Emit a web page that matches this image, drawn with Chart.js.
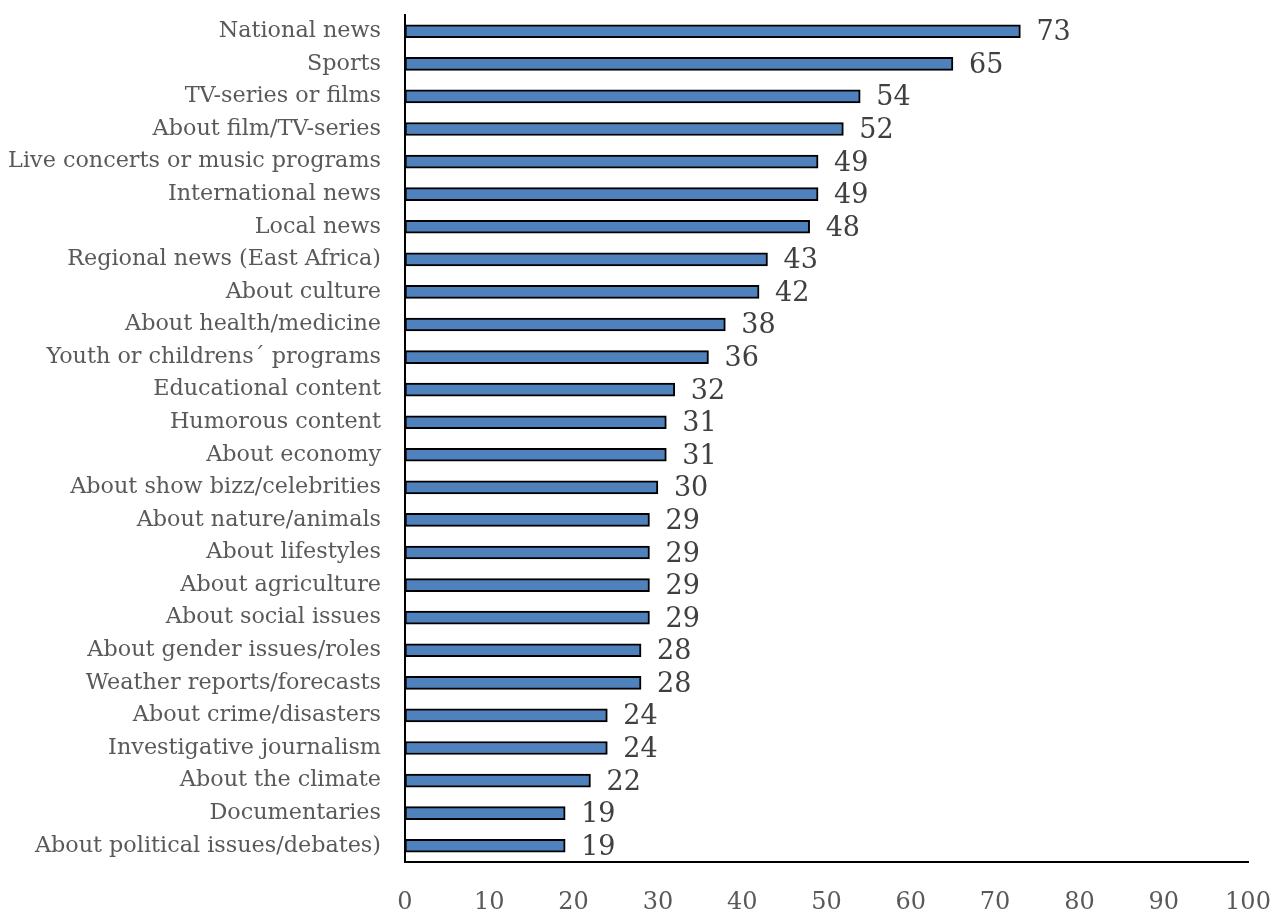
<!DOCTYPE html>
<html>
<head>
<meta charset="utf-8">
<script src="https://cdn.jsdelivr.net/npm/chart.js@4.4.0/dist/chart.umd.min.js"></script>
<style>
  html, body { margin: 0; padding: 0; background: #fff; }
  #wrap { width: 1275px; height: 911px; }
</style>
</head>
<body>
<div id="wrap"><canvas id="chart" width="1275" height="911"></canvas></div>
<script>
// -----Data
var categories = [
  'National news', 'Sports', 'TV-series or films', 'About film/TV-series',
  'Live concerts or music programs', 'International news', 'Local news',
  'Regional news (East Africa)', 'About culture', 'About health/medicine',
  'Youth or childrens\u00b4 programs', 'Educational content', 'Humorous content',
  'About economy', 'About show bizz/celebrities', 'About nature/animals',
  'About lifestyles', 'About agriculture', 'About social issues',
  'About gender issues/roles', 'Weather reports/forecasts', 'About crime/disasters',
  'Investigative journalism', 'About the climate', 'Documentaries',
  'About political issues/debates)'
]
var values = [73, 65, 54, 52, 49, 49, 48, 43, 42, 38, 36, 32, 31, 31, 30, 29, 29, 29, 29, 28, 28, 24, 24, 22, 19, 19]
var xTicks = [0, 10, 20, 30, 40, 50, 60, 70, 80, 90, 100]

var serif = "'DejaVu Serif', 'Liberation Serif', serif"

// -----Value labels next to each bar
var valueLabels = {
  id: 'valueLabels',
  afterDatasetsDraw: function(chart) {
    var ctx = chart.ctx
    var meta = chart.getDatasetMeta(0)
    ctx.save()
    ctx.font = '27px ' + serif
    ctx.fillStyle = '#404040'
    ctx.textAlign = 'left'
    ctx.textBaseline = 'middle'
    meta.data.forEach(function(bar, i) {
      ctx.fillText(String(values[i]), bar.x + 16, bar.y + 2)
    })
    ctx.restore()
  }
}

new Chart(document.getElementById('chart'), {
  type: 'bar',
  data: {
    labels: categories,
    datasets: [{
      data: values,
      backgroundColor: '#4f81bd',
      borderColor: '#000000',
      borderWidth: 2,
      borderSkipped: false,
      barThickness: 13
    }]
  },
  options: {
    indexAxis: 'y',
    responsive: false,
    animation: false,
    layout: { padding: { top: 15, right: 27, left: 0, bottom: 0 } },
    plugins: {
      legend: { display: false },
      tooltip: { enabled: false }
    },
    scales: {
      x: {
        min: 0,
        max: 100,
        afterBuildTicks: function(scale) {
          scale.ticks = xTicks.map(function(v) { return { value: v } })
        },
        afterFit: function(scale) {
          scale.height = 49
          scale.paddingLeft = 0
          scale.paddingRight = 0
        },
        grid: { display: false, drawTicks: false },
        border: { display: true, color: '#000000', width: 2 },
        ticks: {
          color: '#595959',
          font: { family: serif, size: 24 },
          padding: 26,
          maxRotation: 0
        }
      },
      y: {
        afterFit: function(scale) {
          scale.width = 405
          scale.paddingTop = 0
          scale.paddingBottom = 0
        },
        grid: { display: false, drawTicks: false },
        border: { display: true, color: '#000000', width: 2 },
        ticks: {
          color: '#595959',
          font: { family: serif, size: 22.3 },
          padding: 24,
          autoSkip: false
        }
      }
    }
  },
  plugins: [valueLabels]
})
</script>
</body>
</html>
